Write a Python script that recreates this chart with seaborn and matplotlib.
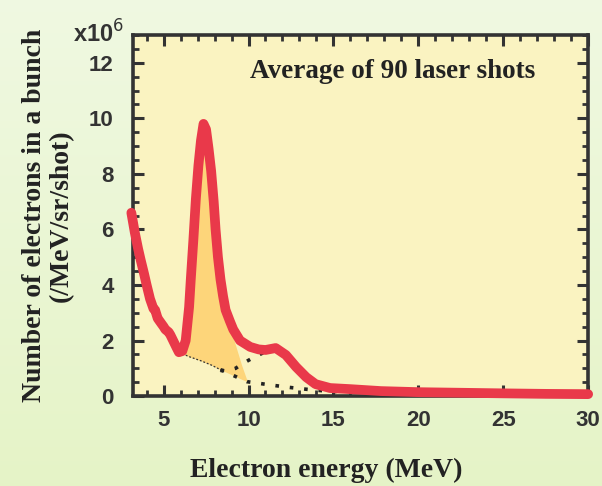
import numpy as np
import pandas as pd
import matplotlib
matplotlib.use("Agg")
import matplotlib.pyplot as plt
import seaborn as sns

# ---- data (number of electrons, units of 1e6 /MeV/sr/shot) ----
energy = [3.1, 3.3, 3.5, 3.65, 3.85, 4.0, 4.2, 4.4, 4.5, 4.65, 4.8, 5.0, 5.1, 5.3, 5.4,
          5.6, 5.8, 5.9, 6.1, 6.3, 6.5, 6.6, 6.75, 6.9, 7.05, 7.2, 7.35, 7.5, 7.65,
          7.8, 7.95, 8.06, 8.2, 8.35, 8.5, 8.65, 8.9, 9.1, 9.5, 10.1, 10.6, 11.0,
          11.6, 12.2, 12.8, 13.4, 13.95, 14.8, 16.0, 17.8, 20.1, 22.5, 24.8, 27.5, 30.0]
counts = [6.6, 5.9, 5.3, 4.9, 4.4, 4.0, 3.5, 3.15, 3.1, 2.8, 2.67, 2.5, 2.4, 2.3, 2.2,
          1.95, 1.7, 1.58, 1.62, 2.0, 3.2, 4.2, 5.6, 7.1, 8.3, 9.2, 9.8, 9.6, 8.9,
          8.1, 7.0, 6.0, 5.0, 4.2, 3.6, 3.1, 2.7, 2.4, 2.0, 1.77, 1.68, 1.66,
          1.73, 1.48, 1.05, 0.68, 0.43, 0.29, 0.25, 0.18, 0.14, 0.12, 0.10, 0.08, 0.07]

# background (dotted) under the spectrum
base_energy = [5.9, 6.5, 7.2, 7.8, 8.35, 8.9, 9.4, 9.9, 10.6, 11.3, 12.3, 13.5, 14.6, 15.5]
base_counts = [1.58, 1.42, 1.27, 1.12, 0.95, 0.80, 0.66, 0.52, 0.46, 0.40, 0.32, 0.24, 0.18, 0.15]

# second (broad) component, dotted
comp_energy = [8.35, 8.77, 9.24, 9.71, 10.24, 10.7, 11.2]
comp_counts = [0.92, 0.92, 1.0, 1.19, 1.37, 1.51, 1.66]

# filled quasi-monoenergetic peak: upper boundary
peak_energy = [5.9, 6.1, 6.3, 6.5, 6.6, 6.75, 6.9, 7.05, 7.2, 7.35, 7.5, 7.65, 7.8,
               7.95, 8.06, 8.2, 8.35, 8.5, 8.65, 8.85, 9.2, 9.6, 9.95]
peak_upper = [1.58, 1.62, 2.0, 3.2, 4.2, 5.6, 7.1, 8.3, 9.2, 9.8, 9.6, 8.9, 8.1,
              7.0, 6.0, 5.0, 4.2, 3.6, 3.1, 2.7, 1.9, 1.1, 0.5]

x_ticks = [5, 10, 15, 20, 25, 30]
y_ticks = [0, 2, 4, 6, 8, 10, 12]

annotation = "Average of 90 laser shots"
x_label = "Electron energy (MeV)"
y_label = "Number of electrons in a bunch\n(/MeV/sr/shot)"

# ---- figure ----
sns.set_theme(style="ticks")
plt.rcParams["font.family"] = ["Liberation Sans", "DejaVu Sans"]

fig = plt.figure(figsize=(6.02, 4.86), dpi=100)

# light green gradient background
bg = fig.add_axes([0, 0, 1, 1], zorder=-10)
grad = np.linspace(0, 1, 256)
top_c = np.array([0.94, 0.975, 0.885])
bot_c = np.array([0.90, 0.955, 0.78])
img = top_c[None, None, :] * (1 - grad[:, None, None]) + bot_c[None, None, :] * grad[:, None, None]
img = np.repeat(img, 4, axis=1)
bg.imshow(img, aspect="auto", extent=[0, 1, 0, 1])
bg.set_axis_off()

ax = fig.add_axes([0.221, 0.185, 0.756, 0.743])
ax.set_facecolor("#faf3c1")

df = pd.DataFrame({"energy": energy, "counts": counts})
peak_base = np.interp(peak_energy, base_energy, base_counts)
ax.fill_between(peak_energy, peak_base, peak_upper, color="#fdd57a", linewidth=0, zorder=1)

# background dotted lines
b_e = np.array(base_energy)
b_c = np.array(base_counts)
m1 = b_e <= 8.6
ax.plot(b_e[m1], b_c[m1], color="#333333", lw=0.9, ls=(0, (1.5, 1.5)), zorder=2)
m2 = b_e >= 8.35
ax.plot(b_e[m2], b_c[m2], color="#222222", lw=2.6, ls=(0, (1, 3.0)), zorder=2)
ax.plot(comp_energy, comp_counts, color="#222222", lw=2.6, ls=(0, (1, 3.0)), zorder=2)

sns.lineplot(data=df, x="energy", y="counts", ax=ax, color="#e9394a", lw=7,
             solid_joinstyle="round", solid_capstyle="round", zorder=3, clip_on=False)

ax.set_xlim(3.2, 30)
ax.set_ylim(0, 13)
ax.set_xticks(x_ticks)
ax.set_yticks(y_ticks)
ax.set_xticks(np.arange(4, 31, 1), minor=True)
ax.set_yticks(np.arange(0, 13.01, 0.5), minor=True)
ax.tick_params(which="both", direction="in", top=True, right=True, color="#333333")
ax.tick_params(which="major", length=8, width=2.2, labelsize=16, labelcolor="#333333")
ax.tick_params(axis="y", which="major", pad=14)
ax.tick_params(axis="x", which="major", pad=10)
ax.tick_params(which="minor", length=4, width=2.0)
for lab in ax.get_xticklabels() + ax.get_yticklabels():
    lab.set_fontweight("bold")
for s in ax.spines.values():
    s.set_color("#333333")
    s.set_linewidth(2.6)

ax.set_xlabel(x_label, fontsize=20, fontweight="bold", family="Liberation Serif",
              color="#222222")
ax.xaxis.set_label_coords(0.425, -0.17)
ax.set_ylabel(y_label, fontsize=20, fontweight="bold", family="Liberation Serif",
              color="#222222", linespacing=1.1)
ax.yaxis.set_label_coords(-0.13, 0.5)
ax.text(0.57, 0.9, annotation, transform=ax.transAxes, ha="center", va="center",
        fontsize=19.5, fontweight="bold", family="Liberation Serif", color="#222222")
fig.text(0.164, 0.93, r"x10$^{6}$", ha="center", va="center", fontsize=17,
         fontweight="bold", color="#333333")

fig.savefig("out.png", dpi=100)
